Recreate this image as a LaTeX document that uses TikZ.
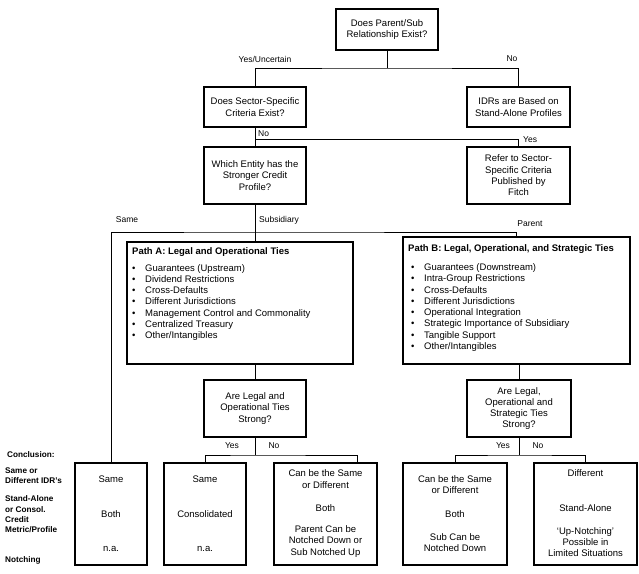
\documentclass[tikz,border=0pt]{standalone}
\usepackage{fontspec}
\setmainfont{Liberation Sans}
\newcommand\myitem{\makebox[13pt][l]{\textbullet}}
\begin{document}
\begin{tikzpicture}[x=1pt,y=-1pt,
  box/.style={draw, line width=1.1pt, inner sep=0pt, align=center, font=\fontsize{9.5}{11.3}\selectfont},
  conn/.style={line width=0.9pt},
  lbl/.style={inner sep=0pt, font=\fontsize{8.5}{10}\selectfont},
  txt/.style={inner sep=0pt, align=center, font=\fontsize{9.5}{11.3}\selectfont},
  side/.style={inner sep=0pt, align=left, anchor=west, font=\bfseries\fontsize{8.2}{10.3}\selectfont},
  list/.style={inner sep=0pt, align=left, anchor=west, font=\fontsize{9.5}{11.3}\selectfont},
  ttl/.style={inner sep=0pt, anchor=west, font=\bfseries\fontsize{9.5}{11.3}\selectfont}]
\useasboundingbox (0,0) rectangle (639,573);

% decision boxes
\node[box, minimum width=102pt, minimum height=41pt] (top) at (387,29.5) {Does Parent/Sub\\Relationship Exist?};
\node[box, minimum width=102pt, minimum height=40pt] (sector) at (255,107) {Does Sector-Specific\\Criteria Exist?};
\node[box, minimum width=103pt, minimum height=40pt] (idr) at (518.5,107) {IDRs are Based on\\Stand-Alone Profiles};
\node[box, minimum width=102pt, minimum height=57pt] (which) at (255,175.5) {Which Entity has the\\Stronger Credit\\Profile?};
\node[box, minimum width=103pt, minimum height=57pt] (refer) at (518.5,175.5) {Refer to Sector-\\Specific Criteria\\Published by\\Fitch};

% path boxes
\node[box, minimum width=226pt, minimum height=122pt] (pathA) at (240,303) {};
\node[box, minimum width=227pt, minimum height=127pt] (pathB) at (516.5,300.5) {};
\node[ttl] (pathAt) at (132,252) {Path A: Legal and Operational Ties};
\node[list] (pathAl) at (132,302.5) {\myitem Guarantees (Upstream)\\\myitem Dividend Restrictions\\\myitem Cross-Defaults\\\myitem Different Jurisdictions\\\myitem Management Control and Commonality\\\myitem Centralized Treasury\\\myitem Other/Intangibles};
\node[ttl] (pathBt) at (408,249) {Path B: Legal, Operational, and Strategic Ties};
\node[list] (pathBl) at (411,307.5) {\myitem Guarantees (Downstream)\\\myitem Intra-Group Restrictions\\\myitem Cross-Defaults\\\myitem Different Jurisdictions\\\myitem Operational Integration\\\myitem Strategic Importance of Subsidiary\\\myitem Tangible Support\\\myitem Other/Intangibles};

% second questions
\node[box, minimum width=102pt, minimum height=57pt] (qa) at (255,408.5) {Are Legal and\\Operational Ties\\Strong?};
\node[box, minimum width=104pt, minimum height=57pt] (qb) at (519,408.5) {Are Legal,\\Operational and\\Strategic Ties\\Strong?};

% conclusion boxes
\node[box, minimum width=72pt, minimum height=102pt] (c1) at (111,514) {};
\node[box, minimum width=82pt, minimum height=102pt] (c2) at (205,514) {};
\node[box, minimum width=103pt, minimum height=102pt] (c3) at (325.5,514) {};
\node[box, minimum width=104pt, minimum height=102pt] (c4) at (455,514) {};
\node[box, minimum width=103pt, minimum height=102pt] (c5) at (585.5,514) {};

\node[txt] (c1a) at (111,479) {Same};
\node[txt] (c1b) at (111,514) {Both};
\node[txt] (c1c) at (111,549) {n.a.};
\node[txt] (c2a) at (205,479) {Same};
\node[txt] (c2b) at (205,514) {Consolidated};
\node[txt] (c2c) at (205,549) {n.a.};
\node[txt] (c3a) at (325.5,479) {Can be the Same\\or Different};
\node[txt] (c3b) at (325.5,508) {Both};
\node[txt] (c3c) at (325.5,541.5) {Parent Can be\\Notched Down or\\Sub Notched Up};
\node[txt] (c4a) at (455,484.5) {Can be the Same\\or Different};
\node[txt] (c4b) at (455,514) {Both};
\node[txt] (c4c) at (455,542.5) {Sub Can be\\Notched Down};
\node[txt] (c5a) at (585.5,473) {Different};
\node[txt] (c5b) at (585.5,508) {Stand-Alone};
\node[txt] (c5c) at (585.5,542) {`Up-Notching'\\Possible in\\Limited Situations};

% side labels
\node[side] (s0) at (7,455) {Conclusion:};
\node[side] (s1) at (5,475.5) {Same or\\Different IDR's};
\node[side] (s2) at (5,514.5) {Stand-Alone\\or Consol.\\Credit\\Metric/Profile};
\node[side] (s3) at (5,560) {Notching};

% junctions
\coordinate (j1) at (387,68);
\coordinate (j2) at (255,139);
\coordinate (j3) at (255,232);
\coordinate (j4) at (255,455);
\coordinate (j5) at (519,455);
\coordinate (c3drop) at (357,463);

% connectors
\draw[conn] (top.south) -- (j1);
\draw[conn] (sector.north) |- (j1) -| (idr.north);
\draw[conn] (sector.south) -- (which.north);
\draw[conn] (j2) -| (refer.north);
\draw[conn] (which.south) -- (which.south |- pathA.north);
\draw[conn] (c1.north) |- (j3) -| (pathB.north);
\draw[conn] (pathA.south -| qa.north) -- (qa.north);
\draw[conn] (qb.north |- pathB.south) -- (qb.north);
\draw[conn] (qa.south) -- (j4);
\draw[conn] (c2.north) |- (j4) -| (c3drop);
\draw[conn] (qb.south) -- (j5);
\draw[conn] (c4.north) |- (j5) -| (c5.north);

% connector labels
\node[lbl] (l1) at (265,59) {Yes/Uncertain};
\node[lbl] (l2) at (512,59) {No};
\node[lbl, anchor=west] (l3) at (258,134) {No};
\node[lbl, anchor=west] (l4) at (523,140) {Yes};
\node[lbl] (l5) at (127,220) {Same};
\node[lbl] (l6) at (279,220) {Subsidiary};
\node[lbl] (l7) at (530,224) {Parent};
\node[lbl] (l8) at (232,446) {Yes};
\node[lbl] (l9) at (274,446) {No};
\node[lbl] (l10) at (503,446) {Yes};
\node[lbl] (l11) at (538,446) {No};
\end{tikzpicture}
\end{document}
